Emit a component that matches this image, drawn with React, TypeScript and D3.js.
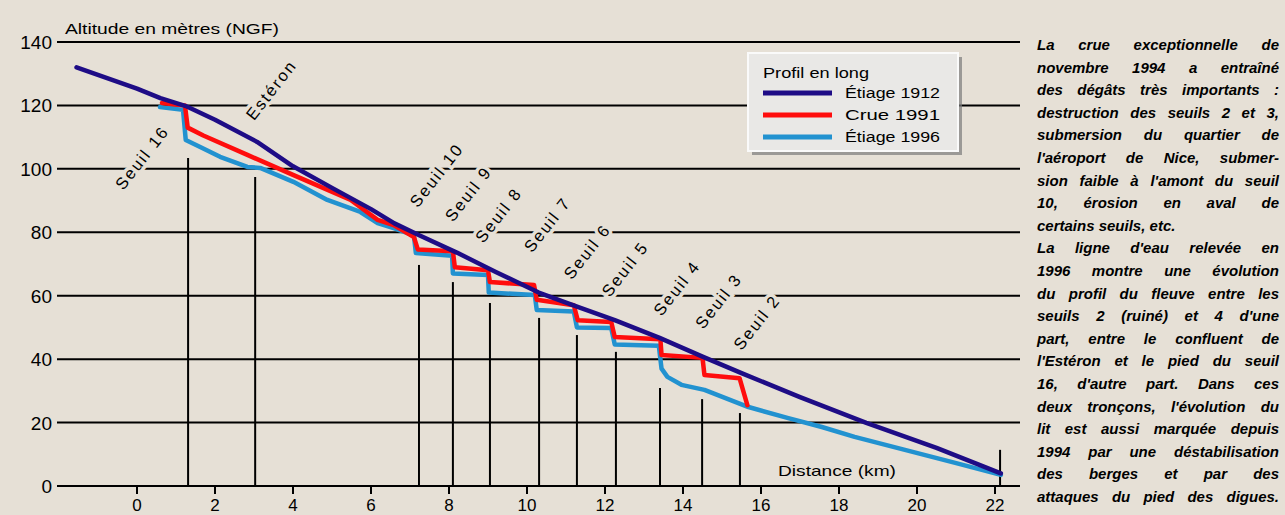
import React, { useMemo } from 'react';
import * as d3 from 'd3';

// ---------- data ----------
const xTicks = [0, 2, 4, 6, 8, 10, 12, 14, 16, 18, 20, 22];
const yTicks = [0, 20, 40, 60, 80, 100, 120, 140];

const etiage1912: [number, number][] = [
  [-1.55, 132], [0, 125.3], [0.6, 122.3], [1.25, 119.8], [2, 115.5], [3.08, 108.5],
  [4, 100.8], [5, 94], [6, 87.3], [6.6, 82.8], [7.25, 79], [8.2, 73.6], [9.2, 67.5],
  [10.3, 61], [11.3, 56.5], [12.25, 52.3], [13.4, 46.7], [14.5, 40.8], [15.5, 35.6],
  [17, 28], [18.7, 19.9], [20.5, 12], [22.15, 4],
];

const crue1991: [number, number][] = [
  [0.64, 120.8], [1.23, 120], [1.3, 113], [1.7, 110.5], [2.83, 104.4], [4.0, 98.1],
  [5.48, 90.2], [6.17, 83.9], [6.58, 82.3], [7.1, 78.5], [7.2, 74.6], [8.1, 74],
  [8.15, 69], [9.0, 68], [9.05, 64.3], [10.18, 63.4], [10.25, 58.7], [11.2, 57],
  [11.3, 52.3], [12.16, 51.7], [12.25, 47], [13.42, 46.3], [13.45, 41.3], [14.5, 40.4],
  [14.55, 35], [15.45, 34], [15.65, 25.5],
];

const etiage1996: [number, number][] = [
  [0.59, 119.5], [1.18, 118.6], [1.25, 109.1], [1.62, 106.9], [2.13, 103.8], [2.83, 100.6],
  [3.16, 100.3], [4.01, 95.9], [4.88, 90.2], [5.73, 86.4], [6.17, 82.9], [6.6, 81.2],
  [7.1, 79], [7.15, 73.5], [8.08, 72.6], [8.1, 67], [9.0, 66.5], [9.02, 61], [10.2, 60.2],
  [10.25, 55.5], [11.2, 55], [11.28, 50], [12.16, 49.8], [12.25, 44.6], [13.38, 44.2],
  [13.45, 37], [13.6, 34.4], [13.96, 31.9], [14.55, 30.3], [15.68, 24.9], [16.7, 21.4],
  [17.56, 18.6], [18.4, 15.5], [19.69, 11.4], [20.98, 7.3], [22.15, 3.5],
];

const seuilKm = [1.31, 3.03, 7.23, 8.1, 9.05, 10.31, 11.28, 12.28, 13.41, 14.49, 15.46, 22.13];
const seuilTop = [103.4, 97.4, 69.7, 64.3, 57.7, 53, 47.6, 42.3, 30.9, 27.4, 23, 11.4];

const labelText = ['Seuil 16', 'Estéron', 'Seuil 10', 'Seuil 9', 'Seuil 8', 'Seuil 7', 'Seuil 6', 'Seuil 5', 'Seuil 4', 'Seuil 3', 'Seuil 2'];
const labelKm = [-0.35, 3.0, 7.2, 8.1, 8.88, 10.13, 11.15, 12.12, 13.45, 14.52, 15.5];
const labelAlt = [93, 115, 87.5, 83, 76.3, 73.3, 64.8, 59.3, 53.3, 49.2, 42.5];

const legendTitle = 'Profil en long';
const legendLabels = ['Étiage 1912', 'Crue 1991', 'Étiage 1996'];

const noteLines = [
  'La crue exceptionnelle de',
  'novembre 1994 a entraîné',
  'des dégâts très importants :',
  'destruction des seuils 2 et 3,',
  'submersion du quartier de',
  "l'aéroport de Nice, submer-",
  "sion faible à l'amont du seuil",
  '10, érosion en aval de',
  'certains seuils, etc.',
  "La ligne d'eau relevée en",
  '1996 montre une évolution',
  'du profil du fleuve entre les',
  "seuils 2 (ruiné) et 4 d'une",
  'part, entre le confluent de',
  "l'Estéron et le pied du seuil",
  "16, d'autre part. Dans ces",
  "deux tronçons, l'évolution du",
  'lit est aussi marquée depuis',
  '1994 par une déstabilisation',
  'des berges et par des',
  'attaques du pied des digues.',
];
const noteUnjustified = [8];

// ---------- styles ----------
const W = 1285;
const H = 515;
const BG = '#e6e0d6';
const C1912 = '#1e0c86';
const C1991 = '#ff0d0d';
const C1996 = '#2292d0';
const FONT = '"Liberation Sans", Arial, sans-serif';
const NOTE_FAMILY = '"Liberation Sans"';
const NOTE_FONT_SIZE = 15;
const NOTE_FONT = `italic bold ${NOTE_FONT_SIZE}px "Liberation Sans"`;

export default function App() {
  const x = d3.scaleLinear().domain([0, 22]).range([137, 995]);
  const y = d3.scaleLinear().domain([0, 140]).range([486, 42]);
  const gridX0 = 57;
  const gridX1 = 1020;

  const line = d3
    .line<[number, number]>()
    .x((d) => x(d[0]))
    .y((d) => y(d[1]));

  const series = [
    { data: etiage1996, color: C1996 },
    { data: crue1991, color: C1991 },
    { data: etiage1912, color: C1912 },
  ];

  // justified note text
  const notes = useMemo(() => {
    const canvas = document.createElement('canvas');
    const ctx = canvas.getContext('2d')!;
    ctx.font = NOTE_FONT;
    const left = 1037;
    const right = 1279;
    return noteLines.map((ln, i) => {
      const words = ln.split(' ');
      let widths = words.map((w) => ctx.measureText(w).width);
      const space = ctx.measureText(' ').width;
      let gap = space;
      let scale = 1;
      if (words.length > 1) {
        const sum = widths.reduce((a, b) => a + b, 0);
        if (!noteUnjustified.includes(i)) {
          gap = (right - left - sum) / (words.length - 1);
          if (gap < 3) {
            gap = 3;
            scale = (right - left - 3 * (words.length - 1)) / sum;
          }
        }
      }
      widths = widths.map((w) => w * scale);
      let cx = left;
      return words.map((w, j) => {
        const p = { w, x: cx, width: widths[j], scaled: scale !== 1 };
        cx += widths[j] + gap;
        return p;
      });
    });
  }, []);

  const lx0 = 748;
  const ly0 = 53;
  const lw = 210;
  const lh = 98;

  return (
    <svg
      width={W}
      height={H}
      style={{ position: 'absolute', left: 0, top: 0, display: 'block' }}
      fontFamily={FONT}
    >
      <rect x={0} y={0} width={W} height={H} fill={BG} />

      {/* grid lines */}
      {yTicks.map((t) => (
        <line key={t} x1={gridX0} x2={gridX1} y1={y(t)} y2={y(t)} stroke="#000" strokeWidth={2} />
      ))}
      {/* y tick labels */}
      {yTicks.map((t) => (
        <text key={t} x={52} y={y(t) + 7} fontSize={19} textAnchor="end" fill="#000">
          {t}
        </text>
      ))}
      {/* x ticks */}
      {xTicks.map((t) => (
        <g key={t}>
          <line x1={x(t)} x2={x(t)} y1={y(0)} y2={y(0) + 8} stroke="#000" strokeWidth={2} />
          <text x={x(t)} y={511} fontSize={17} textAnchor="middle" fill="#000">
            {t}
          </text>
        </g>
      ))}

      {/* axis titles */}
      <text x={65} y={34} fontSize={14} textLength={214} lengthAdjust="spacingAndGlyphs" fill="#000">
        Altitude en mètres (NGF)
      </text>
      <text x={778} y={476} fontSize={15} textLength={118} lengthAdjust="spacingAndGlyphs" fill="#000">
        Distance (km)
      </text>

      {/* seuil labels */}
      {labelText.map((t, i) => (
        <text
          key={t}
          transform={`translate(${x(labelKm[i])},${y(labelAlt[i])}) rotate(-52)`}
          fontSize={16.5}
          letterSpacing={2}
          fill="#000"
          stroke={BG}
          strokeWidth={7}
          paintOrder="stroke"
        >
          {t}
        </text>
      ))}

      {/* seuil vertical lines */}
      {seuilKm.map((k, i) => (
        <line key={k} x1={x(k)} x2={x(k)} y1={y(seuilTop[i])} y2={y(0)} stroke="#000" strokeWidth={2} />
      ))}

      {/* data lines */}
      {series.map((s, i) => (
        <path
          key={i}
          d={line(s.data) || ''}
          fill="none"
          stroke={s.color}
          strokeWidth={4.5}
          strokeLinejoin="round"
          strokeLinecap="round"
        />
      ))}

      {/* legend */}
      <rect x={lx0 + 4} y={ly0 + 4} width={lw} height={lh} fill="#7a7a7a" opacity={0.7} />
      <rect x={lx0} y={ly0} width={lw} height={lh} fill="#e9e8e6" stroke="#fafafa" strokeWidth={2} />
      <text x={lx0 + 15} y={ly0 + 25} fontSize={14} textLength={106} lengthAdjust="spacingAndGlyphs" fill="#000">
        {legendTitle}
      </text>
      {legendLabels.map((t, i) => (
        <g key={t}>
          <line
            x1={lx0 + 15}
            x2={lx0 + 84}
            y1={ly0 + 40 + i * 22}
            y2={ly0 + 40 + i * 22}
            stroke={[C1912, C1991, C1996][i]}
            strokeWidth={5}
          />
          <text
            x={lx0 + 97}
            y={ly0 + 45 + i * 22}
            fontSize={14}
            textLength={95}
            lengthAdjust="spacingAndGlyphs"
            fill="#000"
          >
            {t}
          </text>
        </g>
      ))}

      {/* right note */}
      {notes.map((ln, i) => (
        <text
          key={i}
          y={50 + i * 22.6}
          fontSize={NOTE_FONT_SIZE}
          fontStyle="italic"
          fontWeight="bold"
          fontFamily={NOTE_FAMILY}
          fill="#000"
        >
          {ln.map((p, j) => (
            <tspan
              key={j}
              x={p.x}
              {...(p.scaled ? { textLength: p.width, lengthAdjust: 'spacingAndGlyphs' } : {})}
            >
              {p.w}
            </tspan>
          ))}
        </text>
      ))}
    </svg>
  );
}
